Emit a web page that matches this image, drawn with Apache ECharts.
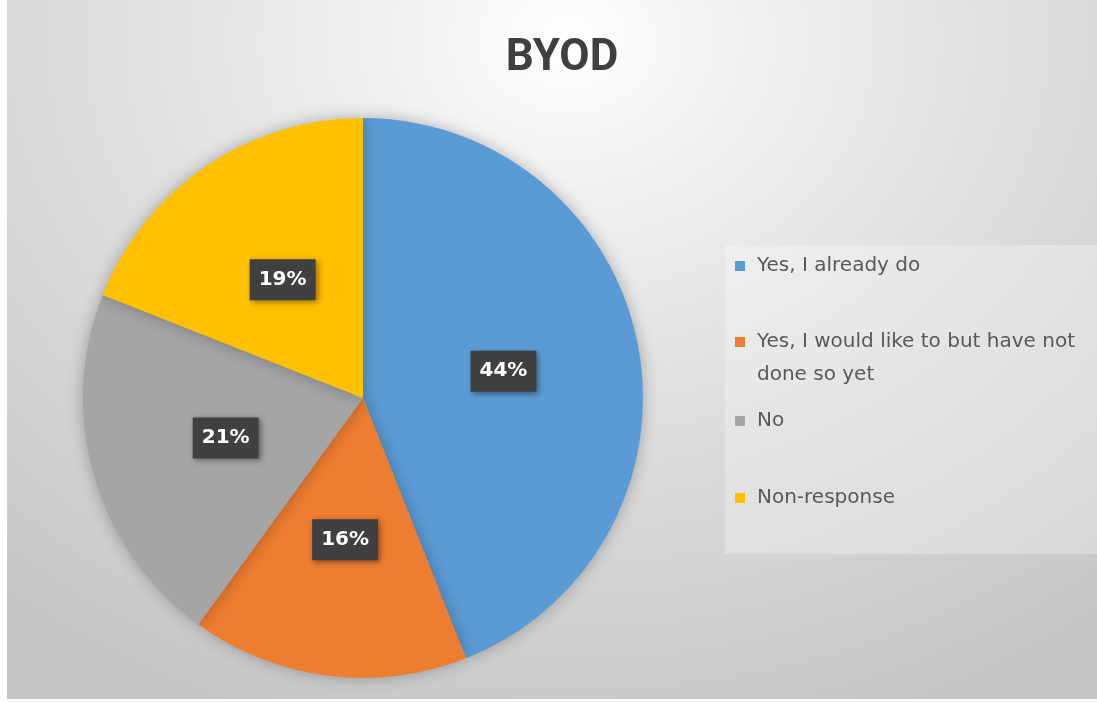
<!DOCTYPE html>
<html>
<head>
<meta charset="utf-8">
<script src="https://cdn.jsdelivr.net/npm/echarts@6/dist/echarts.min.js"></script>
<style>
  html, body { margin: 0; padding: 0; width: 1097px; height: 702px; overflow: hidden; background: #ffffff; }
  #frame {
    position: absolute; left: 7px; top: 0; width: 1090px; height: 699px;
    background: radial-gradient(ellipse 900px 740px at 560px 40px, #ffffff 0%, #f1f1f1 20%, #e0e0e0 48%, #d2d2d2 75%, #c5c5c5 100%);
  }
  #chart { position: absolute; left: 0; top: 0; width: 1097px; height: 702px; }
</style>
</head>
<body>
<div id="frame"></div>
<div id="chart"></div>
<script>
// Survey answers on bringing your own device
const titleText = 'BYOD';
const categories = [
  'Yes, I already do',
  'Yes, I would like to but have not done so yet',
  'No',
  'Non-response'
];
const shares = [44, 16, 21, 19];
const colors = ['#5b9bd5', '#ed7d31', '#a5a5a5', '#ffc000'];

const legendFont = 'DejaVu Sans';
const legendSize = 20;
const lineH = 33;

// One legend per entry so each line sits at its own height
const legendRows = [
  { name: categories[0], center: 266 },
  { name: categories[1], center: 342, wrap: true },
  { name: categories[2], center: 421 },
  { name: categories[3], center: 498 }
];

// small square on the left of a wider box, leaving a gap before the text
const markerPath = 'path://M0,0L10,0L10,10L0,10Z M17,0';

const legends = legendRows.map(function (row) {
  return {
    data: [row.name],
    left: 735,
    // a wrapped entry carries an empty first line, so its first text line sits beside the marker
    top: row.wrap ? row.center - lineH * 1.5 : row.center - lineH / 2,
    orient: 'vertical',
    padding: 0,
    itemWidth: 17,
    itemHeight: 10,
    itemGap: 0,
    icon: markerPath,
    selectedMode: false,
    formatter: function (name) {
      return name === categories[1] ? ' \nYes, I would like to but have not\ndone so yet' : name;
    },
    textStyle: {
      color: '#595959',
      fontFamily: legendFont,
      fontSize: legendSize,
      lineHeight: lineH
    }
  };
});

const chart = echarts.init(document.getElementById('chart'));
chart.setOption({
  backgroundColor: 'transparent',
  animation: false,
  color: colors,
  title: {
    text: titleText,
    left: 557,
    textAlign: 'center',
    top: 32,
    textStyle: { fontFamily: 'Roboto', fontWeight: 'bold', fontSize: 44, color: '#404040' }
  },
  graphic: [{
    type: 'rect',
    shape: { x: 725, y: 245, width: 372, height: 309 },
    style: { fill: 'rgba(255,255,255,0.28)' },
    z: -1
  }],
  legend: legends,
  series: [{
    type: 'pie',
    center: [363, 398],
    radius: 280,
    startAngle: 90,
    clockwise: true,
    data: categories.map(function (c, i) { return { name: c, value: shares[i] }; }),
    itemStyle: {
      shadowBlur: 16,
      shadowColor: 'rgba(0,0,0,0.28)'
    },
    emphasis: { disabled: true },
    labelLine: { show: false },
    label: {
      show: true,
      position: 'inside',
      formatter: '{c}%',
      color: '#ffffff',
      fontFamily: 'DejaVu Sans',
      fontWeight: 'bold',
      fontSize: 20,
      backgroundColor: '#404040',
      padding: [11, 9, 10, 9],
      shadowBlur: 6,
      shadowOffsetX: 2,
      shadowOffsetY: 2,
      shadowColor: 'rgba(0,0,0,0.45)'
    }
  }]
});
</script>
</body>
</html>
